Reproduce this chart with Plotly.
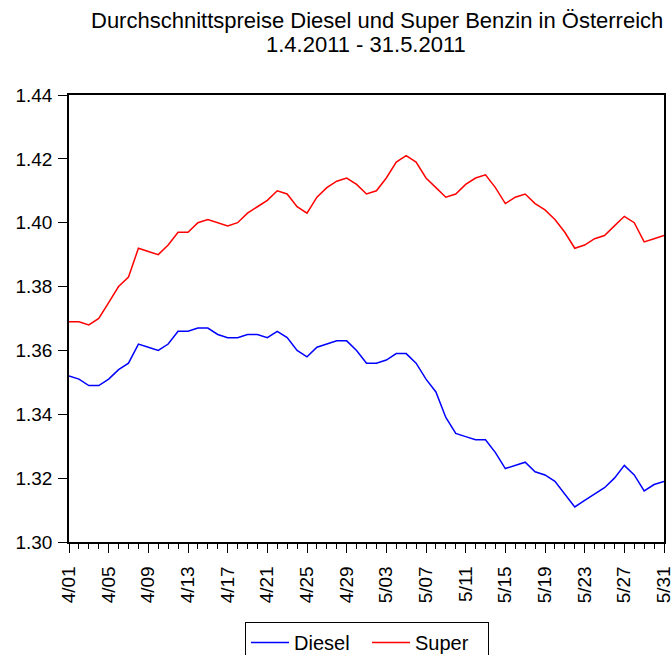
import pandas as pd
import plotly.graph_objects as go

dates = pd.date_range("2011-04-01", "2011-05-31", freq="D")
day_labels = [f"{d.month}/{d.day:02d}" for d in dates]

diesel = [1.352, 1.351, 1.349, 1.349, 1.351, 1.354, 1.356, 1.362, 1.361, 1.360,
          1.362, 1.366, 1.366, 1.367, 1.367, 1.365, 1.364, 1.364, 1.365, 1.365,
          1.364, 1.366, 1.364, 1.360, 1.358, 1.361, 1.362, 1.363, 1.363, 1.360,
          1.356, 1.356, 1.357, 1.359, 1.359, 1.356, 1.351, 1.347, 1.339, 1.334,
          1.333, 1.332, 1.332, 1.328, 1.323, 1.324, 1.325, 1.322, 1.321, 1.319,
          1.315, 1.311, 1.313, 1.315, 1.317, 1.320, 1.324, 1.321, 1.316, 1.318,
          1.319]
super_ = [1.369, 1.369, 1.368, 1.370, 1.375, 1.380, 1.383, 1.392, 1.391, 1.390,
          1.393, 1.397, 1.397, 1.400, 1.401, 1.400, 1.399, 1.400, 1.403, 1.405,
          1.407, 1.410, 1.409, 1.405, 1.403, 1.408, 1.411, 1.413, 1.414, 1.412,
          1.409, 1.410, 1.414, 1.419, 1.421, 1.419, 1.414, 1.411, 1.408, 1.409,
          1.412, 1.414, 1.415, 1.411, 1.406, 1.408, 1.409, 1.406, 1.404, 1.401,
          1.397, 1.392, 1.393, 1.395, 1.396, 1.399, 1.402, 1.400, 1.394, 1.395,
          1.396]
y_ticks = [1.30, 1.32, 1.34, 1.36, 1.38, 1.40, 1.42, 1.44]
title_lines = ["Durchschnittspreise Diesel und Super Benzin in Österreich",
               "1.4.2011 - 31.5.2011"]

x = list(range(len(day_labels)))
tick_idx = list(range(0, len(day_labels), 4))

FONT = "Liberation Sans, Arial, sans-serif"

fig = go.Figure()
fig.add_trace(go.Scatter(x=x, y=diesel, mode="lines", name="Diesel",
                         line=dict(color="#0000FF", width=1.5)))
fig.add_trace(go.Scatter(x=x, y=super_, mode="lines", name="Super",
                         line=dict(color="#FF0000", width=1.5)))

# title: two lines, each placed by its bottom edge (pixels from top)
for line, bottom_px, cx in zip(title_lines, [35, 59], [377, 366]):
    fig.add_annotation(
        text=line, xref="paper", yref="paper",
        x=(cx - 69) / 595, xanchor="center", y=(542 - bottom_px) / 447,
        yanchor="bottom", showarrow=False, align="center",
        font=dict(family=FONT, size=22, color="black"),
    )

fig.update_layout(
    width=672, height=655,
    margin=dict(l=69, r=8, t=95, b=113, autoexpand=False),
    paper_bgcolor="white", plot_bgcolor="white",
    font=dict(family=FONT, size=19, color="black"),
    showlegend=True,
    legend=dict(orientation="h", x=(367 - 69) / 595, xanchor="center",
                y=-80 / 447, yanchor="top",
                bordercolor="black", borderwidth=1, bgcolor="white",
                font=dict(family=FONT, size=20), itemwidth=38,
                entrywidth=68, entrywidthmode="pixels",
                tracegroupgap=0),
)
fig.update_xaxes(
    range=[0, 60], tickmode="array", tickvals=tick_idx,
    ticktext=[day_labels[i] for i in tick_idx], tickangle=-90,
    ticks="outside", ticklen=9, tickcolor="black", tickwidth=1,
    minor=dict(dtick=1, tick0=0, ticks="outside", ticklen=5, tickcolor="black"),
    showline=True, linecolor="black", linewidth=1.5, mirror=True,
    showgrid=False, zeroline=False, automargin=False,
    ticklabeloverflow="allow", ticklabelstandoff=6,
    tickfont=dict(family=FONT, size=19),
)
fig.update_yaxes(
    range=[1.30, 1.44], tickmode="array", tickvals=y_ticks,
    ticktext=[f"{v:.2f}" for v in y_ticks],
    ticks="outside", ticklen=9, tickcolor="black", tickwidth=1,
    showline=True, linecolor="black", linewidth=1.5, mirror=True,
    showgrid=False, zeroline=False, automargin=False,
    ticklabelstandoff=2,
    tickfont=dict(family=FONT, size=19),
)

fig.write_html("out.html", config={"displayModeBar": False},
               post_script="document.body.style.margin='0';document.body.style.overflow='hidden';")
